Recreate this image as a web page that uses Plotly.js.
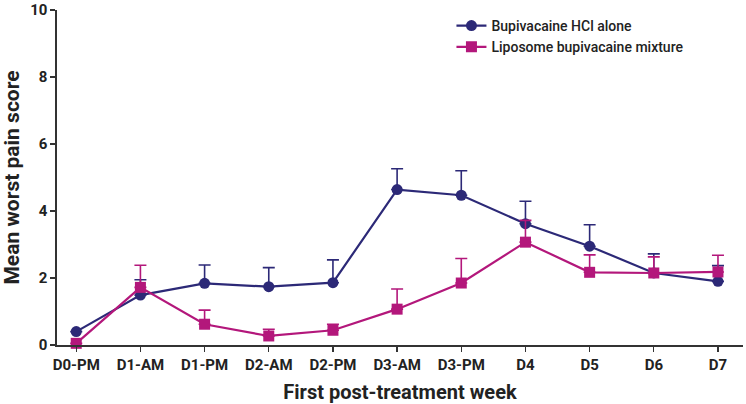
<!DOCTYPE html>
<html>
<head>
<meta charset="utf-8">
<script src="https://cdn.plot.ly/plotly-3.0.1.min.js"></script>
<style>
  html, body { margin: 0; padding: 0; background: #fff; }
  #chart { width: 746px; height: 404px; }
</style>
</head>
<body>
<div id="chart"></div>
<script>
// time points along the first week
var timePoints = ['D0-PM', 'D1-AM', 'D1-PM', 'D2-AM', 'D2-PM', 'D3-AM', 'D3-PM', 'D4', 'D5', 'D6', 'D7'];

// Bupivacaine HCl alone
var bupiMean = [0.40, 1.49, 1.84, 1.74, 1.86, 4.64, 4.47, 3.62, 2.95, 2.15, 1.90];
var bupiErr = [0.00, 0.46, 0.55, 0.57, 0.68, 0.62, 0.73, 0.67, 0.64, 0.57, 0.47];

// Liposome bupivacaine mixture
var lipoMean = [0.05, 1.72, 0.62, 0.27, 0.44, 1.07, 1.85, 3.07, 2.17, 2.15, 2.18];
var lipoErr = [0.00, 0.66, 0.42, 0.20, 0.18, 0.60, 0.73, 0.65, 0.52, 0.48, 0.50];

var seriesNames = ['Bupivacaine HCl alone', 'Liposome bupivacaine mixture'];

var blue = '#2c2977';
var pink = '#b3177b';
var zeros = timePoints.map(function () { return 0; });
var xIdx = timePoints.map(function (t, i) { return i; });

var traceBupi = {
    x: xIdx,
    y: bupiMean,
    name: seriesNames[0],
    type: 'scatter',
    mode: 'lines+markers',
    line: { color: blue, width: 2.2 },
    marker: { color: blue, symbol: 'circle', size: 11 },
    error_y: { type: 'data', symmetric: false, array: bupiErr, arrayminus: zeros, color: blue, thickness: 1.6, width: 6 },
    cliponaxis: false
};

var traceLipo = {
    x: xIdx,
    y: lipoMean,
    name: seriesNames[1],
    type: 'scatter',
    mode: 'lines+markers',
    line: { color: pink, width: 2.2 },
    marker: { color: pink, symbol: 'square', size: 11 },
    error_y: { type: 'data', symmetric: false, array: lipoErr, arrayminus: zeros, color: pink, thickness: 1.6, width: 6 },
    cliponaxis: false
};

var fontFam = 'Roboto, "DejaVu Sans", sans-serif';

var layout = {
    width: 746,
    height: 404,
    margin: { l: 57, r: 3, t: 10, b: 59 },
    paper_bgcolor: '#fff',
    plot_bgcolor: '#fff',
    font: { family: fontFam, color: '#222', size: 13 },
    showlegend: true,
    legend: {
        x: 0.575, y: 1.0, xanchor: 'left', yanchor: 'top',
        bgcolor: 'rgba(255,255,255,0)',
        font: { family: fontFam, size: 14, weight: 500, color: '#222' },
        tracegroupgap: 0
    },
    xaxis: {
        range: [-0.3, 10.39],
        tickvals: xIdx,
        ticktext: timePoints,
        showgrid: false,
        zeroline: false,
        showline: true,
        linecolor: '#333',
        linewidth: 1.6,
        ticks: 'outside',
        ticklen: 5,
        tickwidth: 1.4,
        tickcolor: '#333',
        tickfont: { family: fontFam, size: 15, weight: 700, color: '#222' },
        title: { text: 'First post-treatment week', font: { family: fontFam, size: 20, weight: 700, color: '#222' }, standoff: 18 }
    },
    yaxis: {
        range: [0, 10],
        tickvals: [0, 2, 4, 6, 8, 10],
        showgrid: false,
        zeroline: false,
        showline: true,
        linecolor: '#333',
        linewidth: 1.6,
        ticks: 'outside',
        ticklen: 5,
        tickwidth: 1.4,
        tickcolor: '#333',
        ticklabeloverflow: 'allow',
        tickfont: { family: fontFam, size: 15, weight: 700, color: '#222' },
        title: { text: 'Mean worst pain score', font: { family: fontFam, size: 21, weight: 700, color: '#222' }, standoff: 8 }
    }
};

Plotly.newPlot('chart', [traceBupi, traceLipo], layout, { displayModeBar: false, staticPlot: true });
</script>
</body>
</html>
